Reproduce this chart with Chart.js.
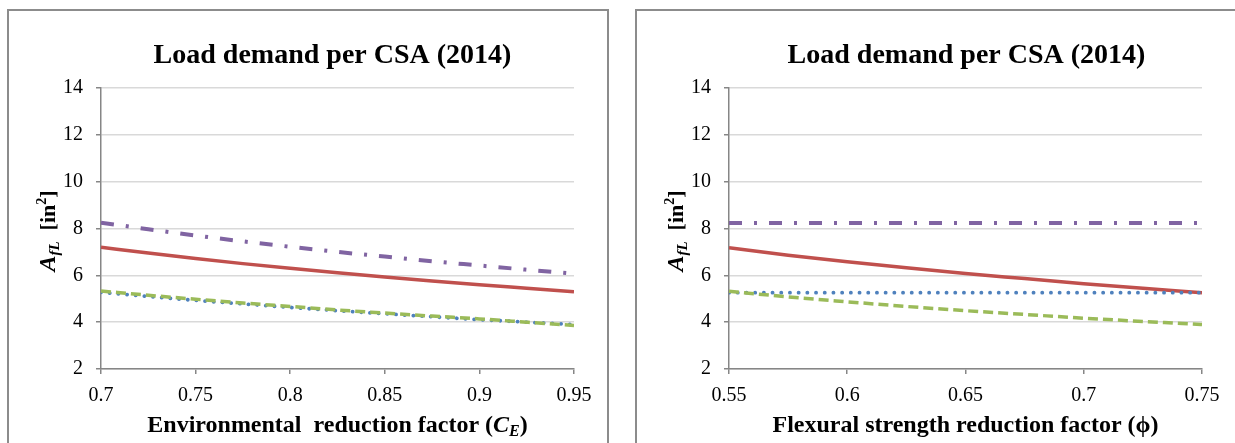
<!DOCTYPE html>
<html>
<head>
<meta charset="utf-8">
<script src="https://cdn.jsdelivr.net/npm/chart.js@4.4.0/dist/chart.umd.min.js"></script>
<style>
  body { margin: 0; background: #fff; width: 1235px; height: 443px; overflow: hidden; position: relative; }
  .panel { position: absolute; top: 9px; border: 2px solid #8c8c8c; border-bottom: none; background: #fff; }
  #p1 { left: 7px; width: 598px; height: 440px; }
  #p2 { left: 635px; width: 620px; height: 440px; }
  canvas { position: absolute; left: 0; top: 0; }
</style>
</head>
<body>
<div class="panel" id="p1"><canvas id="c1" width="598" height="432"></canvas></div>
<div class="panel" id="p2"><canvas id="c2" width="598" height="432"></canvas></div>

<script>
// Left chart: environmental reduction factor C_E
const ceValues = [0.7, 0.725, 0.75, 0.775, 0.8, 0.825, 0.85, 0.875, 0.9, 0.925, 0.95];
const ceRed    = [7.2, 6.95, 6.72, 6.5, 6.3, 6.11, 5.93, 5.76, 5.6, 5.45, 5.3];
const cePurple = [8.25, 7.97, 7.7, 7.45, 7.22, 7.0, 6.8, 6.6, 6.42, 6.24, 6.07];
const ceGreen  = [5.33, 5.15, 4.98, 4.82, 4.67, 4.52, 4.39, 4.26, 4.14, 4.0, 3.86];
const ceBlue   = [5.27, 5.1, 4.93, 4.78, 4.63, 4.49, 4.36, 4.23, 4.11, 4.0, 3.9];

// Right chart: flexural strength reduction factor phi
const phiValues = [0.55, 0.575, 0.6, 0.625, 0.65, 0.675, 0.7, 0.725, 0.75];
const phiRed    = [7.18, 6.86, 6.58, 6.32, 6.08, 5.86, 5.64, 5.45, 5.26];
const phiPurple = [8.24, 8.24, 8.24, 8.24, 8.24, 8.24, 8.24, 8.24, 8.24];
const phiGreen  = [5.32, 5.08, 4.87, 4.67, 4.49, 4.33, 4.17, 4.03, 3.9];
const phiBlue   = [5.26, 5.26, 5.26, 5.26, 5.26, 5.26, 5.26, 5.26, 5.26];

// tick labels
const ceTicks  = [0.7, 0.75, 0.8, 0.85, 0.9, 0.95];
const phiTicks = [0.55, 0.6, 0.65, 0.7, 0.75];
const yTicks   = [2, 4, 6, 8, 10, 12, 14];

const chartTitle = 'Load demand per CSA (2014)';
const serif = "'Liberation Serif', 'Times New Roman', serif";

function pts(xs, ys) {
  return xs.map((x, i) => ({ x: x, y: ys[i] }));
}

// draw a run of text pieces with different fonts, centred on x
function drawRich(ctx, segs, x, y) {
  let w = 0;
  segs.forEach(s => { ctx.font = s.font; w += ctx.measureText(s.t).width; });
  let cx = x - w / 2;
  segs.forEach(s => {
    ctx.font = s.font;
    ctx.fillText(s.t, cx, y + (s.dy || 0));
    cx += ctx.measureText(s.t).width;
  });
}

const titlesPlugin = {
  id: 'titles',
  afterDraw(chart, args, opts) {
    const ctx = chart.ctx;
    const a = chart.chartArea;
    const mid = (a.left + a.right) / 2;
    ctx.save();
    ctx.fillStyle = '#000';
    ctx.textBaseline = 'alphabetic';
    ctx.textAlign = 'left';
    drawRich(ctx, [{ t: chartTitle, font: 'bold 28px ' + serif }], mid + opts.titleShift, 52);
    drawRich(ctx, opts.xTitle, mid, 421);
    ctx.translate(46, 220);
    ctx.rotate(-Math.PI / 2);
    drawRich(ctx, opts.yTitle, 0, 0);
    ctx.restore();
  }
};

const yTitle = [
  { t: 'A', font: 'italic bold 24px ' + serif },
  { t: 'fL', font: 'italic bold 15px ' + serif, dy: 4 },
  { t: '  [in', font: 'bold 22px ' + serif },
  { t: '2', font: 'bold 14px ' + serif, dy: -9 },
  { t: ']', font: 'bold 22px ' + serif }
];

function makeChart(id, xs, red, purple, green, blue, ticks, xTitle, titleShift) {
  const axisGray = '#868686';
  new Chart(document.getElementById(id), {
    type: 'line',
    data: {
      datasets: [
        { data: pts(xs, green), borderColor: '#9BBB59', borderWidth: 3.5, borderDash: [10, 5] },
        { data: pts(xs, blue), borderColor: '#4F81BD', borderWidth: 3.8, borderDash: [0.1, 8.6], borderCapStyle: 'round' },
        { data: pts(xs, red), borderColor: '#C0504D', borderWidth: 3.5 },
        { data: pts(xs, purple), borderColor: '#8064A2', borderWidth: 4, borderDash: [13, 12, 3, 12] }
      ]
    },
    options: {
      responsive: false,
      animation: false,
      devicePixelRatio: 1,
      layout: { padding: { left: 0, top: 77, right: 33, bottom: 0 } },
      elements: {
        point: { radius: 0 },
        line: { cubicInterpolationMode: 'monotone', fill: false }
      },
      plugins: {
        legend: { display: false },
        title: { display: false },
        tooltip: { enabled: false },
        titles: { xTitle: xTitle, yTitle: yTitle, titleShift: titleShift }
      },
      scales: {
        x: {
          type: 'linear',
          min: ticks[0],
          max: ticks[ticks.length - 1],
          afterBuildTicks: s => { s.ticks = ticks.map(v => ({ value: v })); },
          afterFit: s => { s.height = 74; },
          grid: { drawOnChartArea: false, drawTicks: true, tickLength: 5, tickColor: axisGray, lineWidth: 1.5 },
          border: { display: true, color: axisGray, width: 1.5 },
          ticks: {
            padding: 10,
            color: '#000',
            maxRotation: 0,
            font: { family: serif, size: 20 },
            callback: v => String(+v.toFixed(2))
          }
        },
        y: {
          min: 2,
          max: 14,
          afterBuildTicks: s => { s.ticks = yTicks.map(v => ({ value: v })); },
          afterFit: s => { s.width = 92; },
          grid: { color: '#d9d9d9', lineWidth: 1.5, drawTicks: true, tickLength: 5, tickColor: axisGray },
          border: { display: true, color: axisGray, width: 1.5 },
          ticks: {
            padding: 13,
            color: '#000',
            font: { family: serif, size: 20 }
          }
        }
      }
    },
    plugins: [titlesPlugin]
  });
}

makeChart('c1', ceValues, ceRed, cePurple, ceGreen, ceBlue, ceTicks, [
  { t: 'Environmental  reduction factor (', font: 'bold 24px ' + serif },
  { t: 'C', font: 'italic bold 24px ' + serif },
  { t: 'E', font: 'italic bold 16px ' + serif, dy: 4 },
  { t: ')', font: 'bold 24px ' + serif }
], -5);

makeChart('c2', phiValues, phiRed, phiPurple, phiGreen, phiBlue, phiTicks, [
  { t: 'Flexural strength reduction factor (\u03D5)', font: 'bold 24px ' + serif }
], 1);
</script>
</body>
</html>
